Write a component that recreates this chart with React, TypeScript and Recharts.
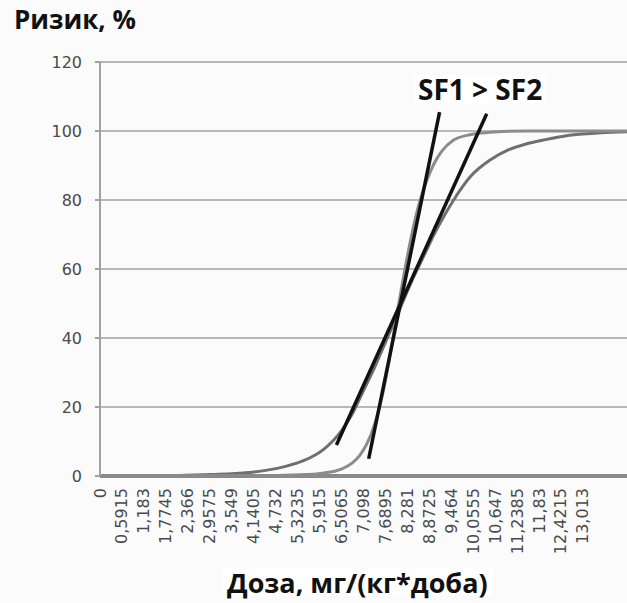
import React from "react";
import {
  LineChart,
  Line,
  XAxis,
  YAxis,
  CartesianGrid,
  ReferenceLine,
} from "recharts";

// dose, mg/(kg*day)
const doses = [
  0, 1, 2, 3, 4, 4.5, 5, 5.5, 6, 6.5, 6.8, 7, 7.2, 7.4, 7.6, 7.8, 8, 8.2, 8.4,
  8.6, 8.8, 9, 9.2, 9.5, 10, 10.5, 11, 11.5, 12, 12.5, 13, 13.5, 14.2,
];

// steep curve (SF1), risk %
const riskSteep = [
  0, 0, 0, 0, 0, 0.1, 0.2, 0.4, 0.8, 2, 3.8, 6, 9.5, 15, 23, 34, 47, 59, 70, 79,
  85.5, 90.5, 94, 97.2, 99, 99.6, 99.9, 100, 100, 100, 100, 100, 100,
];

// shallow curve (SF2), risk %
const riskShallow = [
  0, 0, 0.1, 0.4, 1, 1.7, 2.8, 4.5, 7.5, 13, 18, 22.5, 27, 31.5, 36.5, 41.5,
  46.5, 51.5, 56.5, 61, 65.5, 70, 74, 79.5, 87, 91.5, 94.5, 96.3, 97.5, 98.5,
  99.1, 99.5, 99.8,
];

// hand-drawn tangents [dose, risk]
const tangentSF1 = [
  [7.24, 5],
  [9.15, 105.5],
];
const tangentSF2 = [
  [6.37, 9],
  [10.42, 105],
];

const doseTicks = [
  0, 0.5915, 1.183, 1.7745, 2.366, 2.9575, 3.549, 4.1405, 4.732, 5.3235, 5.915,
  6.5065, 7.098, 7.6895, 8.281, 8.8725, 9.464, 10.0555, 10.647, 11.2385, 11.83,
  12.4215, 13.013,
];
const riskTicks = [0, 20, 40, 60, 80, 100, 120];

const data = doses.map((d, i) => ({
  dose: d,
  sf1: riskSteep[i],
  sf2: riskShallow[i],
}));

const toSegment = (t: number[][]) => t.map(([x, y]) => ({ x, y }));

const fmt = (v: number) => String(v).replace(".", ",");

function DoseTick({ x, y, payload }: any) {
  const ty = y + 4;
  return (
    <text
      x={x}
      y={ty}
      transform={`rotate(-90, ${x}, ${ty})`}
      textAnchor="end"
      dominantBaseline="central"
      fontFamily="DejaVu Sans"
      fontSize={16}
      fill="#4a4a4a"
    >
      {fmt(payload.value)}
    </text>
  );
}

const titleFont = "'Open Sans', 'Noto Sans', sans-serif";

export default function App() {
  return (
    <div
      style={{
        position: "absolute",
        left: 0,
        top: 0,
        width: 627,
        height: 603,
        background: "#fbfbfb",
        overflow: "hidden",
      }}
    >
      <LineChart
        width={627}
        height={603}
        data={data}
        margin={{ top: 62, right: 0, left: 0, bottom: 0 }}
      >
        <CartesianGrid vertical={false} stroke="#b8b8b8" strokeWidth={2} />
        <XAxis
          dataKey="dose"
          type="number"
          domain={[0, 14.2]}
          ticks={doseTicks}
          interval={0}
          height={127}
          axisLine={{ stroke: "#8a8a8a", strokeWidth: 4 }}
          tickLine={false}
          tick={<DoseTick />}
        />
        <YAxis
          domain={[0, 120]}
          ticks={riskTicks}
          width={100}
          axisLine={{ stroke: "#a0a0a0", strokeWidth: 2 }}
          tickLine={{ stroke: "#a0a0a0", strokeWidth: 2 }}
          tickSize={5}
          tickMargin={13}
          tick={{ fontFamily: "DejaVu Sans", fontSize: 16, fill: "#4a4a4a" }}
        />
        <Line
          type="monotone"
          dataKey="sf2"
          stroke="#6f6f6f"
          strokeWidth={3}
          dot={false}
          isAnimationActive={false}
        />
        <Line
          type="monotone"
          dataKey="sf1"
          stroke="#8c8c8c"
          strokeWidth={3}
          dot={false}
          isAnimationActive={false}
        />
        <ReferenceLine
          segment={toSegment(tangentSF1)}
          stroke="#111"
          strokeWidth={3.5}
          ifOverflow="visible"
        />
        <ReferenceLine
          segment={toSegment(tangentSF2)}
          stroke="#111"
          strokeWidth={3.5}
          ifOverflow="visible"
        />
      </LineChart>
      <div
        style={{
          position: "absolute",
          left: 14,
          top: 6,
          fontFamily: titleFont,
          fontWeight: 700,
          fontSize: 26,
          lineHeight: "26px",
          color: "#111",
          whiteSpace: "nowrap",
        }}
      >
        Ризик, %
      </div>
      <div
        style={{
          position: "absolute",
          left: 413,
          top: 75,
          padding: "0 5px",
          background: "#fff",
          fontFamily: titleFont,
          fontWeight: 700,
          fontSize: 28,
          lineHeight: "28px",
          color: "#111",
          whiteSpace: "nowrap",
        }}
      >
        SF1 &gt; SF2
      </div>
      <div
        style={{
          position: "absolute",
          left: 222,
          top: 569,
          padding: "0 5px",
          background: "#fff",
          fontFamily: titleFont,
          fontWeight: 700,
          fontSize: 27,
          lineHeight: "27px",
          color: "#111",
          whiteSpace: "nowrap",
        }}
      >
        Доза, мг/(кг*доба)
      </div>
    </div>
  );
}
